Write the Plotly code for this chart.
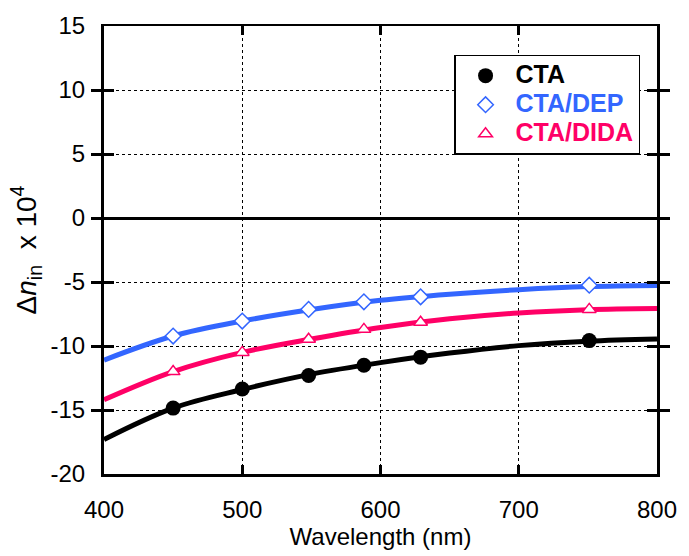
import plotly.graph_objects as go

# Measured data points (nm, Δn x 1e4)
wl_points = [450, 500, 548, 588, 629, 751]
cta_points = [-14.85, -13.36, -12.3, -11.5, -10.87, -9.58]
dep_points = [-9.22, -8.05, -7.14, -6.55, -6.16, -5.25]
dida_points = [-12.0, -10.5, -9.47, -8.7, -8.15, -7.14]

# Fitted curves
wl_curve = [400, 450, 500, 550, 600, 650, 700, 750, 800]
cta_curve = [-17.3, -14.85, -13.4, -12.2, -11.3, -10.55, -9.97, -9.62, -9.45]
dep_curve = [-11.1, -9.22, -8.05, -7.15, -6.43, -5.95, -5.6, -5.36, -5.27]
dida_curve = [-14.2, -12.0, -10.5, -9.45, -8.55, -7.88, -7.42, -7.16, -7.07]

names = ["CTA", "CTA/DEP", "CTA/DIDA"]
colors = ["#000000", "#3366ff", "#ff0066"]
symbols = ["circle", "diamond-open", "triangle-up-open"]

x_ticks = [400, 500, 600, 700, 800]
y_ticks = [-20, -15, -10, -5, 0, 5, 10, 15]

FONT = "Liberation Sans, Arial, sans-serif"

fig = go.Figure()

curves = [cta_curve, dep_curve, dida_curve]
points = [cta_points, dep_points, dida_points]

for name, col, sym, cy, py in zip(names, colors, symbols, curves, points):
    fig.add_trace(go.Scatter(
        x=wl_curve, y=cy, mode="lines", line=dict(color=col, width=5, shape="spline", smoothing=1.0),
        showlegend=False, hoverinfo="skip"))

for name, col, sym, cy, py in zip(names, colors, symbols, curves, points):
    if sym == "circle":
        marker = dict(symbol="circle", size=15, color=col, line=dict(width=0))
    else:
        marker = dict(symbol=sym.replace("-open", ""), size=12, color="white",
                      line=dict(color=col, width=1.5))
    fig.add_trace(go.Scatter(
        x=wl_points, y=py, mode="markers", marker=marker,
        name=f'<span style="color:{col};font-size:25px"><b>{name}</b></span>'))

# dummy trace for the thin top axis
fig.add_trace(go.Scatter(x=[400, 800], y=[None, None], xaxis="x2", showlegend=False, hoverinfo="skip"))

fig.update_layout(
    width=689, height=556,
    margin=dict(l=104, r=24, t=22, b=81),
    paper_bgcolor="white", plot_bgcolor="white",
    font=dict(family=FONT, size=24, color="black"),
    xaxis=dict(
        range=[400, 800], tickvals=x_ticks, ticktext=[str(v) for v in x_ticks],
        showline=True, linecolor="black", linewidth=3, mirror=False,
        ticks="inside", ticklen=9, tickwidth=3, tickcolor="black",
        showgrid=True, gridcolor="black", gridwidth=1, griddash="dot",
        zeroline=False, ticklabelstandoff=12,
        title=dict(text="Wavelength (nm)", font=dict(size=24), standoff=4),
        tickfont=dict(size=24),
    ),
    xaxis2=dict(
        range=[400, 800], overlaying="x", side="top", tickvals=x_ticks,
        showticklabels=False, showline=True, linecolor="black", linewidth=1.5,
        ticks="inside", ticklen=9, tickwidth=3, tickcolor="black", showgrid=False, zeroline=False,
    ),
    yaxis=dict(
        range=[-20, 15], tickvals=y_ticks, ticktext=[str(v) for v in y_ticks],
        showline=True, linecolor="black", linewidth=3, mirror="allticks",
        ticks="inside", ticklen=10, tickwidth=3, tickcolor="black",
        showgrid=True, gridcolor="black", gridwidth=1, griddash="dot",
        zeroline=True, zerolinecolor="black", zerolinewidth=3,
        ticklabelstandoff=11,
        title=dict(text="Δ<i>n</i><sub>in</sub>  x 10<sup>4</sup>", font=dict(size=28), standoff=6),
        tickfont=dict(size=24),
    ),
    legend=dict(
        x=0.633, y=0.936, xanchor="left", yanchor="top",
        bgcolor="white", bordercolor="black", borderwidth=1.5,
        font=dict(family=FONT, size=20), itemwidth=50,
        tracegroupgap=0,
    ),
)

fig.write_html("out.html")
